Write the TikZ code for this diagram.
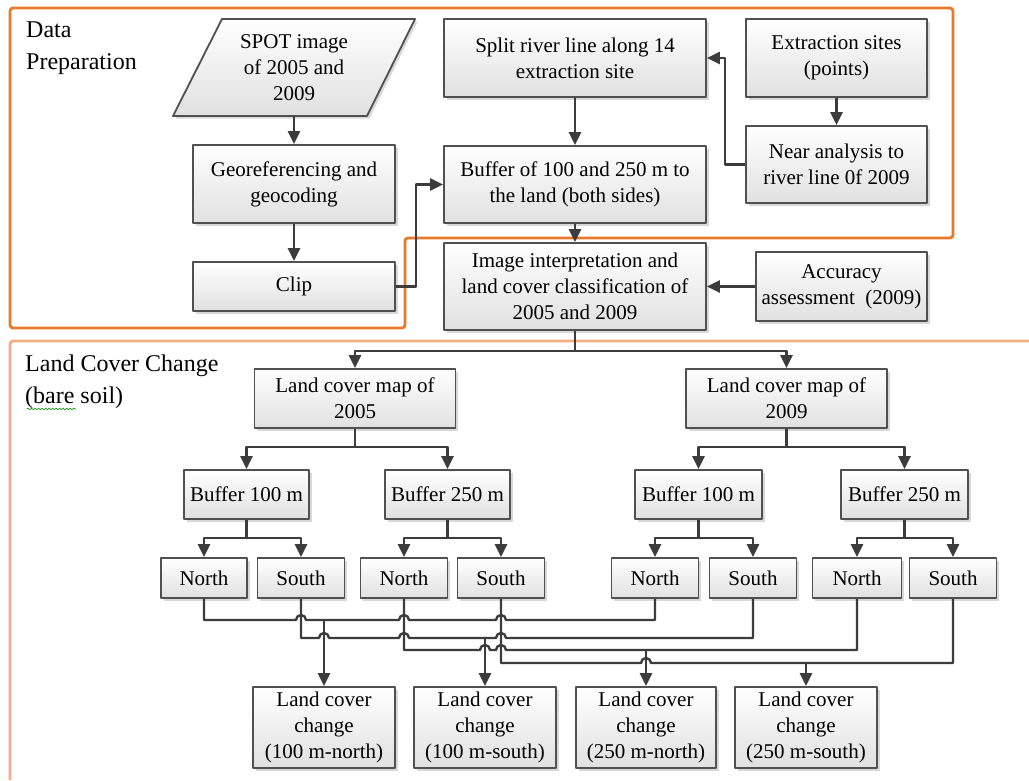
\documentclass[tikz,border=0pt]{standalone}
\usepackage{fontspec}
\setmainfont{Liberation Serif}
\usetikzlibrary{arrows.meta,shadows,decorations.pathmorphing}
\definecolor{lineC}{HTML}{3C3C3C}
\definecolor{boxB}{HTML}{505050}
\definecolor{orgA}{HTML}{E8792B}
\definecolor{orgB}{HTML}{F2AE84}
\begin{document}
\begin{tikzpicture}[x=1pt,y=-1pt,line join=round,
  boxfill/.style={draw=boxB, line width=1.8pt, top color=white, bottom color=gray!24,
    drop shadow={shadow xshift=2.5pt,shadow yshift=-2.5pt,opacity=.3}},
  boxs/.style={boxfill, align=center, inner sep=0pt, font=\fontsize{21}{26}\selectfont},
  sz/.style 2 args={minimum width=#1pt, minimum height=#2pt},
  arr/.style={draw=lineC, line width=2.4pt, -{Triangle[length=13pt,width=12pt]}},
  ln/.style={draw=lineC, line width=2.4pt},
  head/.style={anchor=north west, align=left, inner sep=0pt, font=\fontsize{24}{32}\selectfont}]
\useasboundingbox (0,0) rectangle (1029,780);
\fill[white] (0,0) rectangle (1029,780);

% frames
\draw[orgA, line width=2.8pt, rounded corners=3pt] (10,8) -- (953,8) -- (953,238) -- (405,238) -- (405,328) -- (10,328) -- cycle;
\draw[orgB, line width=2.8pt, rounded corners=3pt] (1029,341) -- (10,341) -- (10,780);

% headings
\node[head] (hdp) at (26,22) {Data\\Preparation};
\node[head] (hlc) at (25,355) {Land Cover Change\\(bare soil)};
\draw[green!55!black, line width=0.6pt, decorate, decoration={snake,amplitude=0.8pt,segment length=3.5pt}] (27,409) -- (76,409);

% data preparation
\path[boxfill] (173,116) -- (367,116) -- (415,19) -- (222,19) -- cycle;
\node[align=center, inner sep=0pt, font=\fontsize{21}{26}\selectfont, sz={193}{97}] (spot) at (294,67.5) {SPOT image\\of 2005 and\\2009};
\node[boxs, sz={202}{78}] (georef) at (294,184) {Georeferencing and\\geocoding};
\node[boxs, sz={202}{49}] (clip) at (294,286.5) {Clip};
\node[boxs, sz={262}{78}] (split) at (575,58) {Split river line along 14\\extraction site};
\node[boxs, sz={262}{77}] (buf) at (575,184.5) {Buffer of 100 and 250 m to\\the land (both sides)};
\node[boxs, sz={181}{78}] (extr) at (836.5,58) {Extraction sites\\(points)};
\node[boxs, sz={181}{77}] (near) at (836.5,164.5) {Near analysis to\\river line 0f 2009};
\node[boxs, sz={262}{87}] (interp) at (575,286.5) {Image interpretation and\\land cover classification of\\2005 and 2009};
\node[boxs, sz={171}{69}] (acc) at (841.5,286.5) {Accuracy\\assessment~~(2009)};

\draw[arr] (spot.south) -- (georef.north);
\draw[arr] (georef.south) -- (clip.north);
\draw[arr] (clip.east) -- ++(20,0) |- (buf.west);
\draw[arr] (split.south) -- (buf.north);
\draw[arr] (extr.south) -- (near.north);
\draw[arr] (near.west) -- ++(-20,0) |- (split.east);
\draw[arr] (buf.south) -- (interp.north);
\draw[arr] (acc.west) -- (interp.east);

% land cover change
\node[boxs, sz={201}{59}] (lcm5) at (355,398.5) {Land cover map of\\2005};
\node[boxs, sz={201}{59}] (lcm9) at (786.5,398.5) {Land cover map of\\2009};
\node[boxs, sz={125}{49}] (b1) at (246.5,494.5) {Buffer 100 m};
\node[boxs, sz={125}{49}] (b2) at (447.5,494.5) {Buffer 250 m};
\node[boxs, sz={127}{49}] (b3) at (698.5,494.5) {Buffer 100 m};
\node[boxs, sz={127}{49}] (b4) at (904.5,494.5) {Buffer 250 m};
\node[boxs, sz={86}{40}] (n1) at (204,578) {North};
\node[boxs, sz={87}{40}] (s1) at (301,578) {South};
\node[boxs, sz={87}{40}] (n2) at (404,578) {North};
\node[boxs, sz={87}{40}] (s2) at (501,578) {South};
\node[boxs, sz={87}{40}] (n3) at (655,578) {North};
\node[boxs, sz={87}{40}] (s3) at (753,578) {South};
\node[boxs, sz={89}{40}] (n4) at (857,578) {North};
\node[boxs, sz={87}{40}] (s4) at (953,578) {South};
\node[boxs, sz={142}{81}] (c1) at (324,727.5) {Land cover\\change\\(100 m-north)};
\node[boxs, sz={142}{81}] (c2) at (485,727.5) {Land cover\\change\\(100 m-south)};
\node[boxs, sz={140}{81}] (c3) at (646,727.5) {Land cover\\change\\(250 m-north)};
\node[boxs, sz={142}{81}] (c4) at (806,727.5) {Land cover\\change\\(250 m-south)};

\coordinate (j0) at (575,351);
\draw[ln] (interp.south) -- (j0);
\draw[arr] (j0) -| (lcm5.north);
\draw[arr] (j0) -| (lcm9.north);

\coordinate (k5) at (355,447);
\draw[ln] (lcm5.south) -- (k5);
\draw[arr] (k5) -| (b1.north);
\draw[arr] (k5) -| (b2.north);
\coordinate (k9) at (786.5,447);
\draw[ln] (lcm9.south) -- (k9);
\draw[arr] (k9) -| (b3.north);
\draw[arr] (k9) -| (b4.north);

\coordinate (m1) at (246.5,538);
\coordinate (m2) at (447.5,538);
\coordinate (m3) at (698.5,538);
\coordinate (m4) at (904.5,538);
\draw[ln] (b1.south) -- (m1);
\draw[ln] (b2.south) -- (m2);
\draw[ln] (b3.south) -- (m3);
\draw[ln] (b4.south) -- (m4);
\draw[arr] (m1) -| (n1.north);
\draw[arr] (m1) -| (s1.north);
\draw[arr] (m2) -| (n2.north);
\draw[arr] (m2) -| (s2.north);
\draw[arr] (m3) -| (n3.north);
\draw[arr] (m3) -| (s3.north);
\draw[arr] (m4) -| (n4.north);
\draw[arr] (m4) -| (s4.north);

% merge lines with hops
\draw[ln] (n1.south) |- (296,620) arc[start angle=180,end angle=0,radius=5pt] -- (399,620) arc[start angle=180,end angle=0,radius=5pt] -- (496,620) arc[start angle=180,end angle=0,radius=5pt] -- (655,620) -- (n3.south);
\draw[ln] (s1.south) |- (319,638) arc[start angle=180,end angle=0,radius=5pt] -- (399,638) arc[start angle=180,end angle=0,radius=5pt] -- (496,638) arc[start angle=180,end angle=0,radius=5pt] -- (753,638) -- (s3.south);
\draw[ln] (n2.south) |- (480,650) arc[start angle=180,end angle=0,radius=5pt] -- (496,650) arc[start angle=180,end angle=0,radius=5pt] -- (857,650) -- (n4.south);
\draw[ln] (s2.south) |- (641,663) arc[start angle=180,end angle=0,radius=5pt] -- (953,663) -- (s4.south);

\coordinate (j1) at (324,620);
\coordinate (j2) at (485,638);
\coordinate (j3) at (646,650);
\coordinate (j4) at (806,663);
\draw[arr] (j1) -- (c1.north);
\draw[arr] (j2) -- (c2.north);
\draw[arr] (j3) -- (c3.north);
\draw[arr] (j4) -- (c4.north);
\end{tikzpicture}
\end{document}
